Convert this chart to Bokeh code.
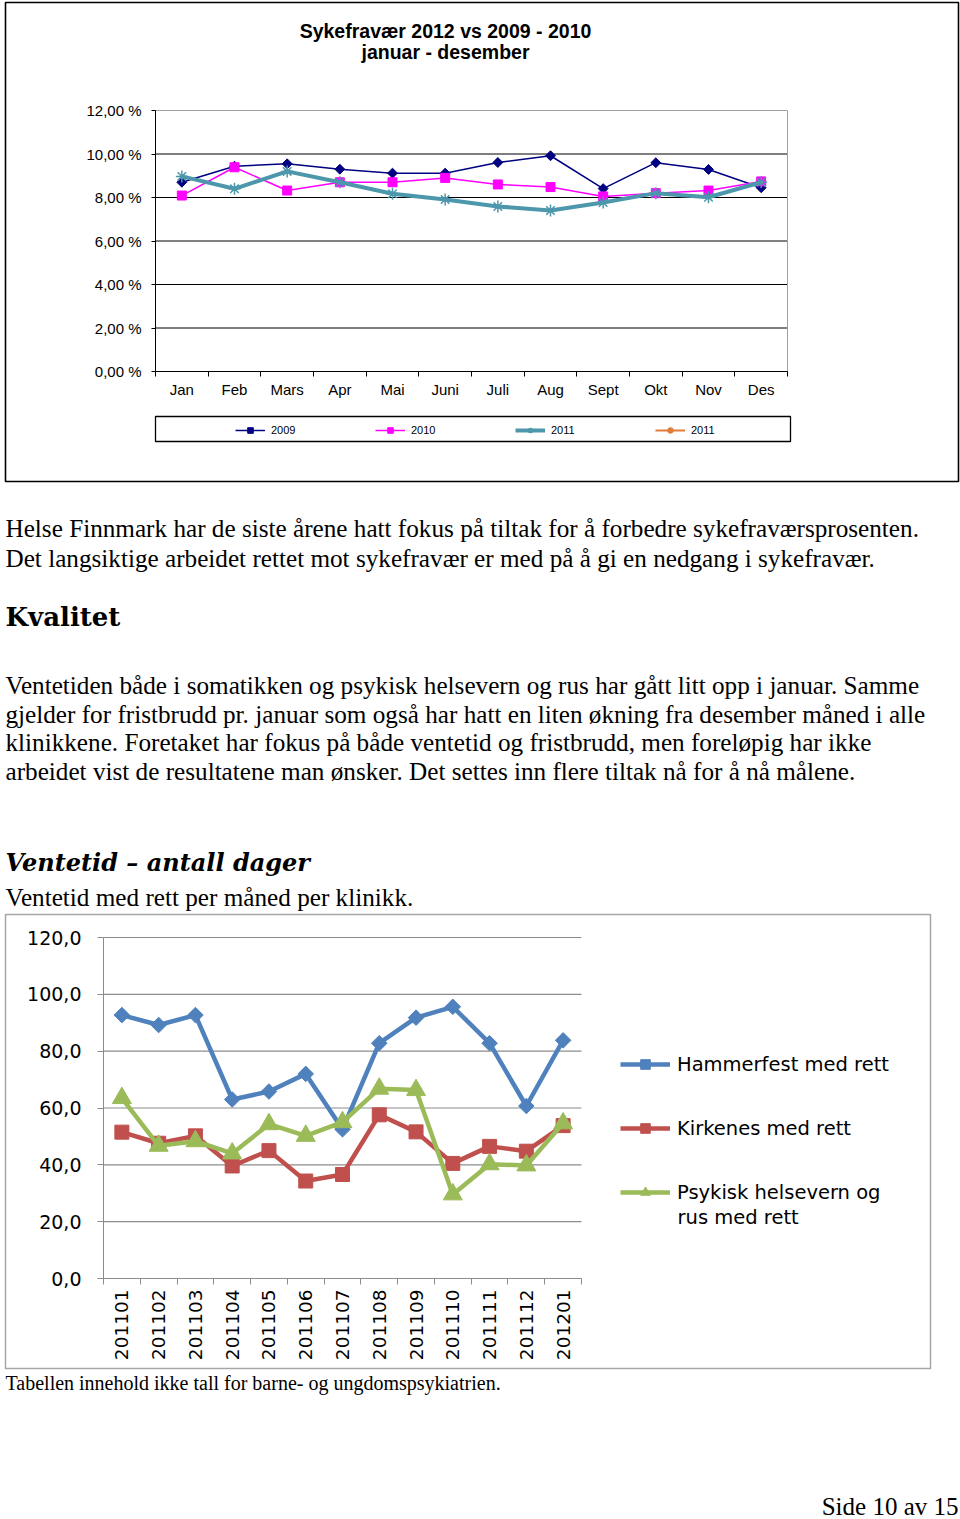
import math
from bokeh.plotting import figure
from bokeh.models import (Range1d, FixedTicker, CustomJSTickFormatter, Legend, LegendItem,
                          Label, BoxAnnotation, LinearAxis)
from bokeh.layouts import column
from bokeh.embed import file_html
from bokeh.resources import INLINE

NA = float("nan")

# ---------------- data: chart 1 (sykefravær, %) ----------------
months = ["Jan", "Feb", "Mars", "Apr", "Mai", "Juni", "Juli", "Aug", "Sept", "Okt", "Nov", "Des"]
sick_2009 = [8.70, 9.44, 9.55, 9.30, 9.12, 9.12, 9.61, 9.92, 8.41, 9.60, 9.29, 8.45]
sick_2010 = [8.09, 9.39, 8.32, 8.70, 8.70, 8.90, 8.60, 8.48, 8.05, 8.20, 8.32, 8.74]
sick_2011 = [8.97, 8.40, 9.20, 8.70, 8.17, 7.91, 7.59, 7.40, 7.77, 8.20, 8.01, 8.70]
# fourth legend entry: no values are drawn for it in the chart
sick_2011_b = [NA, NA, NA, NA, NA, NA, NA, NA, NA, NA, NA, NA]
pct_ticks = [0, 2, 4, 6, 8, 10, 12]

# ---------------- data: chart 2 (ventetid, dager) ----------------
periods = ["201101", "201102", "201103", "201104", "201105", "201106", "201107",
           "201108", "201109", "201110", "201111", "201112", "201201"]
hammerfest = [92.7, 89.2, 92.7, 63.0, 65.8, 72.0, 52.5, 82.8, 91.8, 95.6, 82.8, 60.7, 83.8]
kirkenes = [51.5, 47.6, 50.2, 39.6, 45.0, 34.3, 36.6, 57.6, 51.6, 40.5, 46.5, 44.8, 53.8]
psykisk = [63.5, 46.7, 48.3, 44.0, 54.3, 50.2, 55.0, 66.8, 66.3, 29.6, 40.2, 39.8, 54.6]
days_ticks = [0, 20, 40, 60, 80, 100, 120]

SANS = "Liberation Sans"
SERIF = "Liberation Serif"
CAL = "DejaVu Sans"
W = 960


def lin(pa, va, pb, vb):
    """pixel -> data value mapping through two reference pixels"""
    return lambda px: va + (px - pa) * (vb - va) / (pb - pa)


def page_figure(h, xr, yr):
    p = figure(width=W, height=h, output_backend="svg", toolbar_location=None,
               x_range=xr, y_range=yr, min_border=0,
               x_axis_location=None, y_axis_location=None,
               outline_line_color=None, background_fill_color="white",
               border_fill_color="white")
    p.grid.visible = False
    return p


# ======================= CHART 1 =======================
H1 = 485
n1 = len(months)
fx1 = lin(155, -0.5, 787, n1 - 0.5)       # plot area 155..787 px
fy1 = lin(371, 0, 110, pct_ticks[-1])     # plot area 371..110 px
p1 = page_figure(H1, Range1d(fx1(0), fx1(W)), Range1d(fy1(H1), fy1(0)))
x_m = list(range(n1))

# plot-area border (grey, top/right visible)
p1.add_layout(BoxAnnotation(left=-0.5, right=n1 - 0.5, bottom=0, top=pct_ticks[-1],
                            fill_alpha=0, line_color="#a0a0a0", line_alpha=1, line_width=1,
                            level="underlay"))
# horizontal grid lines limited to the plot area
grid1 = pct_ticks[:-1]
p1.segment(x0=-0.5, x1=n1 - 0.5, y0=grid1, y1=grid1, line_color="black", line_width=1,
           level="underlay")

ya1 = LinearAxis(fixed_location=-0.5, bounds=(0, pct_ticks[-1]),
                 ticker=FixedTicker(ticks=pct_ticks),
                 formatter=CustomJSTickFormatter(code="return tick.toFixed(2).replace('.', ',') + ' %';"),
                 major_tick_out=4, major_tick_in=0, minor_tick_line_color=None,
                 major_label_standoff=10, major_label_text_font=SANS,
                 major_label_text_font_size="15px", major_label_text_color="black",
                 axis_line_color="black", major_tick_line_color="black")
p1.add_layout(ya1, "left")

xa1 = LinearAxis(fixed_location=0, bounds=(-0.5, n1 - 0.5),
                 ticker=FixedTicker(ticks=x_m, minor_ticks=[i - 0.5 for i in range(n1 + 1)]),
                 formatter=CustomJSTickFormatter(
                     args=dict(labels=months),
                     code="const i = Math.round(tick); return (i >= 0 && i < labels.length) ? labels[i] : '';"),
                 major_tick_line_color=None, major_tick_out=0, major_tick_in=0,
                 minor_tick_out=5, minor_tick_in=0, minor_tick_line_color="black",
                 major_label_standoff=4, major_label_text_font=SANS,
                 major_label_text_font_size="15px", major_label_text_color="black",
                 axis_line_color="black")
p1.add_layout(xa1, "below")

c09, c10, c11, c11b = "#000080", "#FF00FF", "#4C97AB", "#E07B39"
l09 = p1.line(x_m, sick_2009, line_color=c09, line_width=1.5)
s09 = p1.scatter(x_m, sick_2009, marker="square", angle=math.pi / 4, size=7, color=c09)
l10 = p1.line(x_m, sick_2010, line_color=c10, line_width=1.5)
s10 = p1.scatter(x_m, sick_2010, marker="square", size=9, color=c10)
l11 = p1.line(x_m, sick_2011, line_color=c11, line_width=4)
s11 = p1.scatter(x_m, sick_2011, marker="asterisk", size=12, line_color=c11, line_width=1.5)
l11b = p1.line(x_m, sick_2011_b, line_color=c11b, line_width=2)
s11b = p1.scatter(x_m, sick_2011_b, marker="circle", size=6, color=c11b)

leg1 = Legend(items=[LegendItem(label="2009", renderers=[l09, s09]),
                     LegendItem(label="2010", renderers=[l10, s10]),
                     LegendItem(label="2011", renderers=[l11, s11]),
                     LegendItem(label="2011", renderers=[l11b, s11b])],
              orientation="horizontal", location=(235, H1 - 436.5),
              glyph_width=30, glyph_height=14, label_standoff=6, label_width=50, spacing=54,
              padding=5, margin=0, border_line_color=None, background_fill_alpha=0,
              label_text_font=SANS, label_text_font_size="11px", label_text_color="black")
p1.add_layout(leg1, "center")

# legend frame and outer chart frame
p1.add_layout(BoxAnnotation(left=fx1(155), right=fx1(790), top=fy1(416), bottom=fy1(441),
                            fill_alpha=0, line_color="black", line_alpha=1, line_width=1.3))
p1.add_layout(BoxAnnotation(left=fx1(5), right=fx1(958), top=fy1(2), bottom=fy1(481),
                            fill_alpha=0, line_color="black", line_alpha=1, line_width=1.6))

for txt, yb in [("Sykefravær 2012 vs 2009 - 2010", 30), ("januar - desember", 51.5)]:
    p1.add_layout(Label(x=fx1(445), y=fy1(yb), text=txt, text_align="center",
                        text_baseline="alphabetic", text_font=SANS, text_font_style="bold",
                        text_font_size="19.5px", text_color="black"))

# ======================= TEXT BLOCK =======================
TOP = 485
HT = 427
pt = page_figure(HT, Range1d(0, W), Range1d(HT, 0))

body = [
    ("Helse Finnmark har de siste årene hatt fokus på tiltak for å forbedre sykefraværsprosenten.", 528),
    ("Det langsiktige arbeidet rettet mot sykefravær er med på å gi en nedgang i sykefravær.", 558),
    ("Ventetiden både i somatikken og psykisk helsevern og rus har gått litt opp i januar. Samme", 685),
    ("gjelder for fristbrudd pr. januar som også har hatt en liten økning fra desember måned i alle", 714),
    ("klinikkene. Foretaket har fokus på både ventetid og fristbrudd, men foreløpig har ikke", 742),
    ("arbeidet vist de resultatene man ønsker. Det settes inn flere tiltak nå for å nå målene.", 771),
    ("Ventetid med rett per måned per klinikk.", 897),
]
for txt, yb in body:
    pt.add_layout(Label(x=5, y=yb - TOP, text=txt, text_font=SERIF, text_font_size="25.2px",
                        text_baseline="alphabetic", text_color="black"))
pt.add_layout(Label(x=5, y=616 - TOP, text="Kvalitet", text_font="DejaVu Serif",
                    text_font_style="bold", text_font_size="26px",
                    text_baseline="alphabetic", text_color="black"))
pt.add_layout(Label(x=5, y=862 - TOP, text="Ventetid – antall dager", text_font="DejaVu Serif",
                    text_font_style="bold italic", text_font_size="24px",
                    text_baseline="alphabetic", text_color="black"))

# ======================= CHART 2 =======================
H2 = 460
n2 = len(periods)
fx2 = lin(103, -0.5, 581, n2 - 0.5)       # plot area 103..581 px
fy2 = lin(366, 0, 25, days_ticks[-1])     # plot area 366..25 px
p2 = page_figure(H2, Range1d(fx2(0), fx2(W)), Range1d(fy2(H2), fy2(0)))
x_p = list(range(n2))
GRAY = "#8c8c8c"

grid2 = days_ticks[1:]
p2.segment(x0=-0.5, x1=n2 - 0.5, y0=grid2, y1=grid2, line_color=GRAY, line_width=1.2,
           level="underlay")

ya2 = LinearAxis(fixed_location=-0.5, bounds=(0, days_ticks[-1]),
                 ticker=FixedTicker(ticks=days_ticks),
                 formatter=CustomJSTickFormatter(code="return tick.toFixed(1).replace('.', ',');"),
                 major_tick_out=6, major_tick_in=0, minor_tick_line_color=None,
                 major_label_standoff=16, major_label_text_font=CAL,
                 major_label_text_font_size="19px", major_label_text_color="black",
                 axis_line_color=GRAY, major_tick_line_color=GRAY)
p2.add_layout(ya2, "left")

xa2 = LinearAxis(fixed_location=0, bounds=(-0.5, n2 - 0.5),
                 ticker=FixedTicker(ticks=x_p, minor_ticks=[i - 0.5 for i in range(n2 + 1)]),
                 formatter=CustomJSTickFormatter(
                     args=dict(labels=periods),
                     code="const i = Math.round(tick); return (i >= 0 && i < labels.length) ? labels[i] : '';"),
                 major_label_orientation=math.pi / 2,
                 major_tick_line_color=None, major_tick_out=0, major_tick_in=0,
                 minor_tick_out=6, minor_tick_in=0, minor_tick_line_color=GRAY,
                 major_label_standoff=5, major_label_text_font=CAL,
                 major_label_text_font_size="18.5px", major_label_text_color="black",
                 axis_line_color=GRAY)
p2.add_layout(xa2, "below")

cb, cr, cg = "#4F81BD", "#C0504D", "#9BBB59"
lh = p2.line(x_p, hammerfest, line_color=cb, line_width=4.5)
sh = p2.scatter(x_p, hammerfest, marker="square", angle=math.pi / 4, size=11, color=cb)
lk = p2.line(x_p, kirkenes, line_color=cr, line_width=4.5)
sk = p2.scatter(x_p, kirkenes, marker="square", size=14, color=cr)
lp = p2.line(x_p, psykisk, line_color=cg, line_width=4.5)
sp = p2.scatter(x_p, psykisk, marker="triangle", size=19, color=cg)

leg2 = Legend(items=[LegendItem(label="Hammerfest med rett", renderers=[lh, sh]),
                     LegendItem(label="Kirkenes med rett", renderers=[lk, sk]),
                     LegendItem(label="Psykisk helsevern og", renderers=[lp, sp])],
              orientation="vertical", location=(620, H2 - 292),
              glyph_width=50, glyph_height=24, label_standoff=7, spacing=40,
              padding=0, margin=0, border_line_color=None, background_fill_alpha=0,
              label_text_font=CAL, label_text_font_size="19.5px", label_text_color="black")
p2.add_layout(leg2, "center")
p2.add_layout(Label(x=fx2(677), y=fy2(305), text="rus med rett", text_baseline="middle",
                    text_font=CAL, text_font_size="19.5px", text_color="black"))

p2.add_layout(BoxAnnotation(left=fx2(5), right=fx2(930), top=fy2(2), bottom=fy2(456),
                            fill_alpha=0, line_color="#a6a6a6", line_alpha=1, line_width=1.5))

# ======================= BOTTOM TEXT =======================
BT = 1372
HB = 147
pb = page_figure(HB, Range1d(0, W), Range1d(HB, 0))
pb.add_layout(Label(x=5, y=1382 - BT, text="Tabellen innehold ikke tall for barne- og ungdomspsykiatrien.",
                    text_font=SERIF, text_font_size="20px", text_baseline="alphabetic",
                    text_color="black"))
pb.add_layout(Label(x=958, y=1506 - BT, text="Side 10 av 15", text_font=SERIF,
                    text_font_size="25px", text_align="right", text_baseline="alphabetic",
                    text_color="black"))

layout = column(p1, pt, p2, pb, spacing=0)
open("out.html", "w").write(file_html(layout, INLINE))
